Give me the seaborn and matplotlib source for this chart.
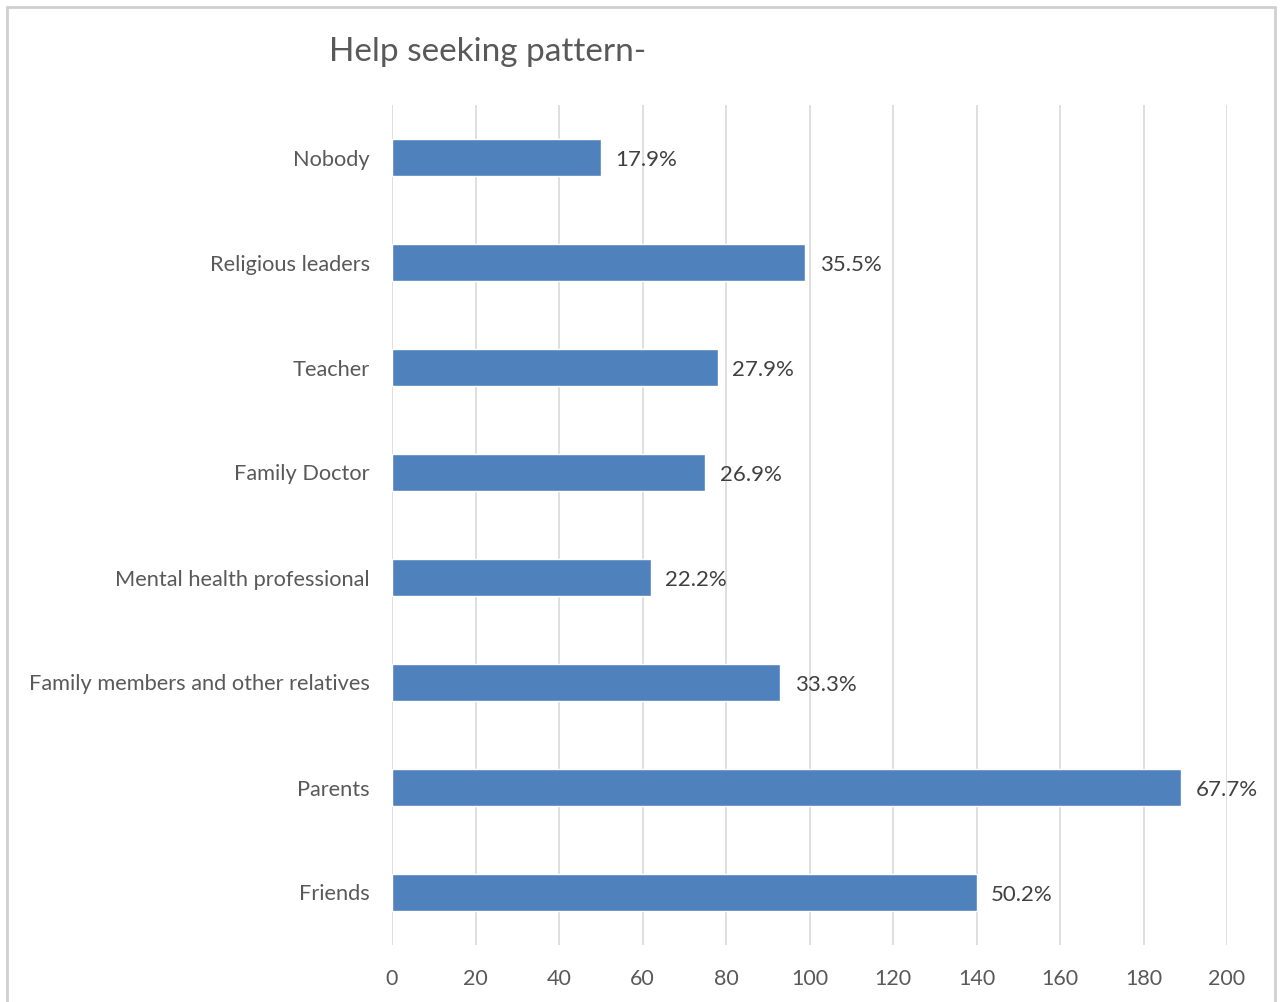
import matplotlib
matplotlib.use("Agg")
import matplotlib.pyplot as plt
import seaborn as sns
import pandas as pd
from matplotlib.lines import Line2D

categories = ["Nobody", "Religious leaders", "Teacher", "Family Doctor",
              "Mental health professional", "Family members and other relatives",
              "Parents", "Friends"]
counts = [50, 99, 78, 75, 62, 93, 189, 140]
pct_labels = ["17.9%", "35.5%", "27.9%", "26.9%", "22.2%", "33.3%", "67.7%", "50.2%"]
x_ticks = [0, 20, 40, 60, 80, 100, 120, 140, 160, 180, 200]
title = "Help seeking pattern-"

df = pd.DataFrame({"category": categories, "count": counts})

sns.set_theme(style="white")
plt.rcParams['font.family'] = ['Lato', 'DejaVu Sans']

fig = plt.figure(figsize=(12.82, 10.02), dpi=100)
ax = fig.add_axes([392/1282, 1-945/1002, (1227-392)/1282, (945-105)/1002])

sns.barplot(data=df, y="category", x="count", order=categories, color="#4F81BD",
            width=0.35, saturation=1, ax=ax, zorder=3)

ax.set_xlim(0, 200)
ax.set_xticks(x_ticks)
ax.set_xticklabels([str(t) for t in x_ticks])
ax.xaxis.grid(True, color="#D9D9D9", linewidth=1.2, zorder=0)
ax.set_axisbelow(True)
for s in ax.spines.values():
    s.set_visible(False)
ax.set_xlabel("")
ax.set_ylabel("")
ax.tick_params(axis="x", length=0, pad=17, labelsize=15.5, labelcolor="#595959")
ax.tick_params(axis="y", length=0, pad=16, labelsize=15.7, labelcolor="#595959")

for cont in ax.containers:
    texts = ax.bar_label(cont, labels=pct_labels, padding=10.5, fontsize=16, color="#404040")
    for t in texts:
        t.xyann = (t.xyann[0], -1.5)

fig.text(329/1282, 1-52/1002, title, fontsize=24, color="#595959",
         ha="left", va="center")

# outer frame
fig.add_artist(Line2D([7/1282, 7/1282], [0, 1-7/1002], transform=fig.transFigure,
                      color="#D0D0D0", linewidth=2))
fig.add_artist(Line2D([7/1282, 1275/1282], [1-7/1002, 1-7/1002], transform=fig.transFigure,
                      color="#D0D0D0", linewidth=2))
fig.add_artist(Line2D([1275/1282, 1275/1282], [0, 1-7/1002], transform=fig.transFigure,
                      color="#D0D0D0", linewidth=2))

fig.savefig("out.png", dpi=100, facecolor="white")
